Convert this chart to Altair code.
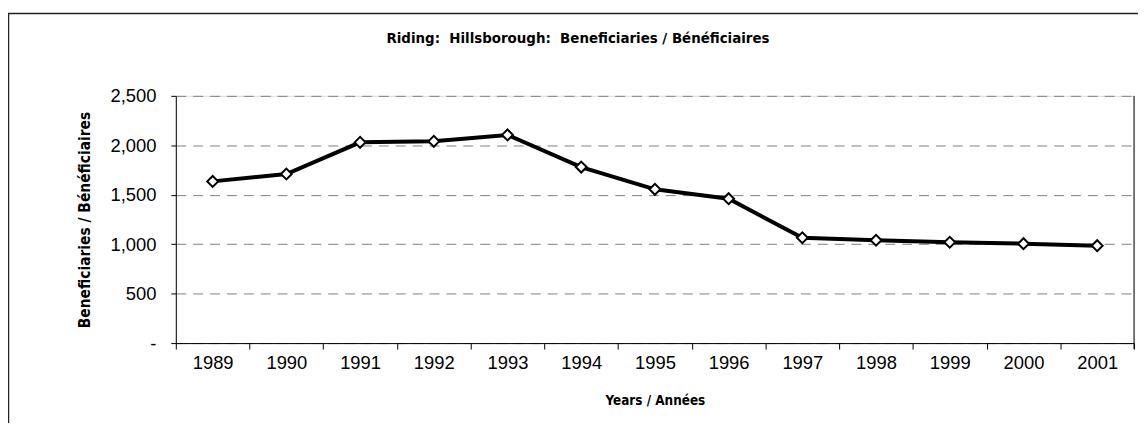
import altair as alt
import pandas as pd

years = ["1989", "1990", "1991", "1992", "1993", "1994", "1995",
         "1996", "1997", "1998", "1999", "2000", "2001"]
beneficiaries = [1635, 1710, 2030, 2040, 2105, 1780, 1555,
                 1460, 1065, 1040, 1020, 1005, 985]
y_ticks = [0, 500, 1000, 1500, 2000, 2500]

title_text = "Riding:\u00a0 Hillsborough:\u00a0 Beneficiaries / Bénéficiaires"
x_title = "Years / Années"
y_title = "Beneficiaries / Bénéficiaires"

df = pd.DataFrame({"year": years, "value": beneficiaries})
one = pd.DataFrame({"k": [0]})

W, H = 965, 249
BOLD = "DejaVu Sans Condensed, Liberation Sans, sans-serif"
REG = "Liberation Sans, Arial, sans-serif"

x_enc = alt.X(
    "year:N",
    sort=years,
    scale=alt.Scale(type="band", paddingInner=0, paddingOuter=0),
    axis=alt.Axis(
        title=x_title, labelAngle=0, tickBand="extent", grid=False,
        domainColor="black", tickColor="black", tickSize=6,
        labelFont=REG, labelFontSize=18.5, labelColor="black", labelPadding=5,
        titleFont=BOLD, titleFontSize=13.5, titleFontWeight="bold", titleColor="black",
        titleY=58, titleBaseline="middle",
    ),
)
y_enc = alt.Y(
    "value:Q",
    scale=alt.Scale(domain=[0, 2500], nice=False, zero=True),
    axis=alt.Axis(
        title=y_title, values=y_ticks,
        labelExpr="datum.value == 0 ? '-' : format(datum.value, ',')",
        domainColor="black", tickColor="black", tickSize=5,
        labelFont=REG, labelFontSize=18.5, labelColor="black", labelPadding=15,
        grid=True, gridColor="#808080", gridDash=[10, 7], gridWidth=1,
        titleFont=BOLD, titleFontSize=15.5, titleFontWeight="bold", titleColor="black",
        titleX=-92, titleY=H / 2, titleAngle=270, titleBaseline="middle", titleAlign="center",
    ),
)

frame = alt.Chart(one).mark_rect(fillOpacity=0, stroke="#222222", strokeWidth=1.5).encode(
    x=alt.value(-168.5), x2=alt.value(1200), y=alt.value(-83), y2=alt.value(500)
)

line = alt.Chart(df).mark_line(color="black", strokeWidth=4).encode(x=x_enc, y=y_enc)
points = alt.Chart(df).mark_point(
    shape="diamond", filled=True, fill="white", stroke="black", strokeWidth=2,
    size=120, opacity=1
).encode(x=x_enc, y=y_enc)

right_edge = alt.Chart(one).mark_rule(color="black", strokeWidth=1).encode(
    x=alt.value(W), y=alt.value(0), y2=alt.value(H + 6)
)

title = alt.Chart(one).mark_text(
    font=BOLD, fontSize=15, fontWeight="bold", color="black",
    align="center", baseline="middle"
).encode(x=alt.value(405), y=alt.value(-58), text=alt.value(title_text))

chart = alt.layer(frame, line, points, right_edge, title).properties(
    width=W, height=H,
    autosize=alt.AutoSizeParams(type="none"),
    padding={"left": 169, "top": 87, "right": 4, "bottom": 79},
).configure_view(stroke=None).configure(background="white")

chart.save("out.html", embed_options={"renderer": "svg", "actions": False})
